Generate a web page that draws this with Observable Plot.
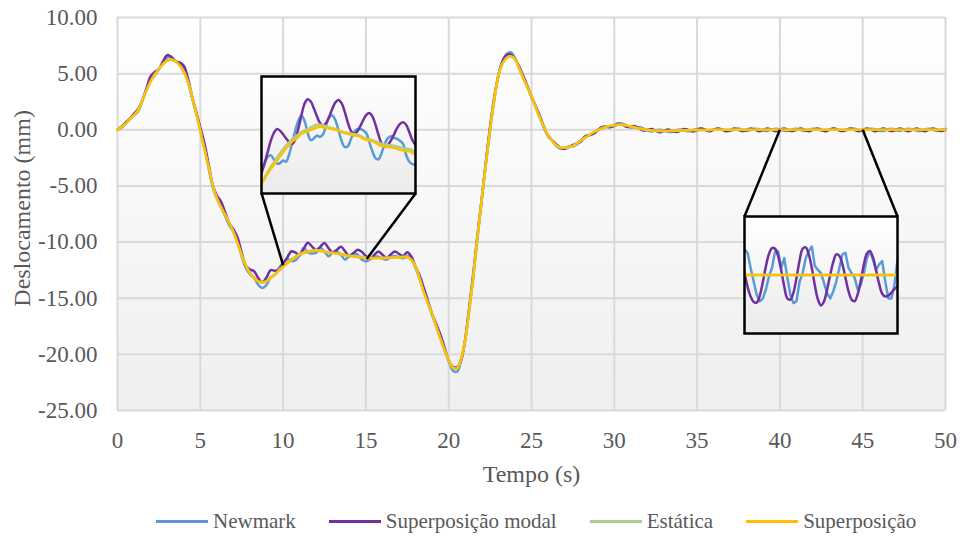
<!DOCTYPE html>
<html>
<head>
<meta charset="utf-8">
<script src="https://cdn.jsdelivr.net/npm/d3@7"></script>
<script src="https://cdn.jsdelivr.net/npm/@observablehq/plot@0.6"></script>
<style>
  html, body { margin: 0; padding: 0; background: #ffffff; }
  #wrap { position: relative; width: 962px; height: 536px; overflow: hidden; background: #ffffff; }
  #legend { position: absolute; left: 156px; top: 509px; display: flex; gap: 33px; align-items: center;
            font-family: 'Liberation Serif', 'Times New Roman', serif; font-size: 21px; color: #595959; white-space: nowrap; }
  .item { display: flex; align-items: center; }
  .sw { width: 52px; height: 2.5px; margin-right: 5px; }
</style>
</head>
<body>
<svg width="0" height="0" style="position:absolute">
  <defs>
    <linearGradient id="plotBg" x1="0" y1="0" x2="0" y2="1">
      <stop offset="0" stop-color="#ffffff"/>
      <stop offset="1" stop-color="#efefef"/>
    </linearGradient>
    <linearGradient id="insetBg" x1="0" y1="0" x2="0" y2="1">
      <stop offset="0" stop-color="#ffffff"/>
      <stop offset="1" stop-color="#ebebeb"/>
    </linearGradient>
  </defs>
</svg>
<div id="wrap"></div>
<script>
// ---------------- data ----------------
const seriesNames = ["Newmark", "Superposição modal", "Estática", "Superposição"];
const seriesColors = ["#5b9bd5", "#7030a0", "#a9d18e", "#ffc000"];
const xTicks = [0, 5, 10, 15, 20, 25, 30, 35, 40, 45, 50];
const yTicks = [-25, -20, -15, -10, -5, 0, 5, 10];
const xTitle = "Tempo (s)";
const yTitle = "Deslocamento (mm)";

// main series, sampled every 0.25 s from 0 to 50 s
const timeStep = 0.25;
const newmark = [
 0.00,0.20,0.55,1.00,1.30,1.65,2.60,3.60,4.40,4.85,5.40,6.00,6.45,6.45,6.10,5.85,5.40,4.30,2.85,1.50,
 0.00,-1.60,-3.40,-5.10,-6.10,-6.80,-7.70,-8.50,-9.10,-10.00,-11.30,-12.30,-12.85,-13.20,-13.80,-14.10,-13.80,-13.15,-12.90,-12.30,
 -11.82,-11.50,-11.69,-11.62,-11.15,-10.52,-10.92,-11.02,-10.95,-10.50,-10.85,-11.27,-10.90,-10.83,-11.15,-11.57,-11.20,-11.02,-11.12,-11.56,
 -11.72,-11.55,-11.35,-11.29,-11.48,-11.57,-11.35,-11.23,-11.36,-11.44,-11.25,-11.55,-12.30,-13.30,-14.40,-15.45,-16.50,-17.50,-18.55,-19.65,
 -20.60,-21.45,-21.55,-20.55,-18.70,-15.90,-12.90,-9.50,-6.10,-2.90,0.00,2.65,4.90,6.10,6.75,6.90,6.40,5.50,4.70,3.85,
 2.95,2.05,1.10,0.15,-0.50,-0.95,-1.45,-1.68,-1.60,-1.50,-1.50,-1.30,-0.90,-0.62,-0.50,-0.32,-0.03,0.22,0.29,0.27,
 0.32,0.50,0.55,0.36,0.20,0.20,0.22,0.13,-0.05,-0.15,-0.05,0.00,-0.08,-0.18,-0.19,-0.03,0.03,-0.07,-0.14,-0.03,
 0.08,
 0.10,-0.02,-0.10,0.03,0.10,0.05,-0.08,-0.10,0.04,0.11,-0.03,-0.10,0.00,0.09,0.06,-0.07,-0.11,0.02,0.10,0.04,
 -0.09,-0.08,0.06,0.10,-0.02,-0.11,0.01,0.10,0.05,-0.06,-0.10,0.03,0.11,-0.01,-0.09,-0.05,0.08,0.10,-0.04,-0.11,
 0.02,0.09,0.06,-0.08,-0.10,0.05,0.10,-0.03,-0.10,0.01,0.10,0.04,-0.07,-0.11,0.03,0.09,-0.02,-0.10,0.02,0.08
];
const modal = [
 0.00,0.30,0.65,1.00,1.45,1.85,2.60,3.70,4.75,5.15,5.40,6.10,6.65,6.50,6.10,6.00,5.70,4.60,3.00,1.60,
 0.20,-1.20,-3.05,-4.90,-5.85,-6.40,-7.35,-8.30,-8.85,-9.60,-10.95,-12.10,-12.45,-12.60,-13.20,-13.60,-13.15,-12.50,-12.55,-12.50,
 -11.95,-11.38,-10.82,-10.95,-11.18,-10.57,-10.07,-10.40,-10.73,-10.41,-10.09,-10.55,-10.94,-10.68,-10.42,-10.84,-11.26,-10.98,-10.69,-10.87,
 -11.25,-11.45,-11.15,-10.84,-11.13,-11.42,-11.10,-10.83,-11.06,-11.24,-10.90,-11.30,-12.20,-13.00,-14.10,-15.25,-16.40,-17.30,-18.25,-19.40,
 -20.50,-21.10,-21.15,-20.50,-18.60,-15.70,-12.60,-9.20,-6.10,-2.80,0.30,2.90,4.80,6.10,6.65,6.70,6.30,5.65,4.80,3.90,
 2.95,2.10,1.25,0.30,-0.55,-0.95,-1.30,-1.58,-1.70,-1.55,-1.35,-1.20,-1.05,-0.58,-0.45,-0.34,-0.05,0.24,0.25,0.23,
 0.42,0.57,0.45,0.26,0.30,0.32,0.12,-0.07,0.00,0.07,-0.08,-0.22,-0.10,0.02,-0.09,-0.20,-0.07,0.07,-0.04,-0.15,
 -0.02,
 0.12,0.00,-0.12,0.00,0.11,0.01,-0.12,-0.01,0.12,0.00,-0.11,0.00,0.12,0.01,-0.12,0.00,0.11,0.00,-0.12,0.01,
 0.12,0.00,-0.11,-0.01,0.12,0.00,-0.12,0.00,0.11,0.01,-0.12,0.00,0.12,0.00,-0.11,0.00,0.12,-0.01,-0.12,0.00,
 0.11,0.00,-0.12,0.01,0.12,0.00,-0.11,0.00,0.12,0.00,-0.12,-0.01,0.11,0.00,-0.12,0.00,0.12,0.00,-0.11,0.00
];
const estatica = [
 0.00,0.24,0.56,0.96,1.32,1.78,2.62,3.52,4.32,4.92,5.42,5.86,6.15,6.24,6.08,5.74,5.18,4.28,2.98,1.48,
 -0.12,-1.72,-3.32,-4.92,-6.10,-6.88,-7.58,-8.28,-9.10,-10.10,-11.18,-12.08,-12.72,-13.18,-13.48,-13.58,-13.48,-13.18,-12.88,-12.52,
 -12.17,-11.84,-11.54,-11.28,-11.07,-10.92,-10.82,-10.74,-10.72,-10.75,-10.82,-10.90,-10.95,-10.99,-11.07,-11.14,-11.21,-11.23,-11.28,-11.31,
 -11.39,-11.40,-11.41,-11.41,-11.41,-11.40,-11.38,-11.36,-11.34,-11.32,-11.33,-11.58,-12.18,-13.28,-14.48,-15.44,-16.40,-17.50,-18.60,-19.60,
 -20.50,-21.18,-21.22,-20.38,-18.68,-15.98,-12.88,-9.38,-6.08,-2.98,0.02,2.72,4.80,5.90,6.40,6.54,6.28,5.48,4.58,3.78,
 2.98,1.98,1.08,0.24,-0.50,-1.00,-1.40,-1.57,-1.59,-1.54,-1.44,-1.19,-0.94,-0.69,-0.44,-0.22,-0.05,0.12,0.25,0.35,
 0.41,0.44,0.44,0.37,0.29,0.20,0.12,0.05,0.00,-0.05,-0.08,-0.09,-0.10,-0.10,-0.09,-0.08,-0.07,-0.05,-0.04,-0.03,
 -0.02,
 -0.01,-0.01,-0.01,0.00,0.00,0.00,0.00,0.00,0.00,0.00,0.00,0.00,0.00,0.00,0.00,0.00,0.00,0.00,0.00,0.00,
 0.00,0.00,0.00,0.00,0.00,0.00,0.00,0.00,0.00,0.00,0.00,0.00,0.00,0.00,0.00,0.00,0.00,0.00,0.00,0.00,
 0.00,0.00,0.00,0.00,0.00,0.00,0.00,0.00,0.00,0.00,0.00,0.00,0.00,0.00,0.00,0.00,0.00,0.00,0.00,0.00
];
const superposicao = [
 0.00,0.25,0.55,0.95,1.30,1.75,2.60,3.50,4.30,4.90,5.40,5.85,6.15,6.25,6.10,5.75,5.20,4.30,3.00,1.50,
 -0.10,-1.70,-3.30,-4.90,-6.10,-6.90,-7.60,-8.30,-9.10,-10.10,-11.20,-12.10,-12.75,-13.20,-13.50,-13.60,-13.50,-13.20,-12.90,-12.55,
 -12.20,-11.88,-11.61,-11.35,-11.13,-10.97,-10.88,-10.80,-10.78,-10.81,-10.86,-10.93,-10.98,-11.03,-11.11,-11.19,-11.26,-11.28,-11.34,-11.37,
 -11.45,-11.45,-11.45,-11.44,-11.43,-11.42,-11.40,-11.38,-11.36,-11.34,-11.35,-11.60,-12.20,-13.30,-14.50,-15.45,-16.40,-17.50,-18.60,-19.60,
 -20.50,-21.20,-21.25,-20.40,-18.70,-16.00,-12.90,-9.40,-6.10,-3.00,0.00,2.70,4.80,5.90,6.40,6.55,6.30,5.50,4.60,3.80,
 3.00,2.00,1.10,0.25,-0.50,-1.00,-1.40,-1.58,-1.60,-1.55,-1.45,-1.20,-0.95,-0.70,-0.45,-0.22,-0.05,0.12,0.25,0.35,
 0.42,0.45,0.45,0.38,0.30,0.20,0.12,0.05,0.00,-0.05,-0.08,-0.10,-0.10,-0.10,-0.09,-0.08,-0.07,-0.05,-0.04,-0.03,
 -0.02,
 -0.01,-0.01,-0.01,0.00,0.00,0.00,0.00,0.00,0.00,0.00,0.00,0.00,0.00,0.00,0.00,0.00,0.00,0.00,0.00,0.00,
 0.00,0.00,0.00,0.00,0.00,0.00,0.00,0.00,0.00,0.00,0.00,0.00,0.00,0.00,0.00,0.00,0.00,0.00,0.00,0.00,
 0.00,0.00,0.00,0.00,0.00,0.00,0.00,0.00,0.00,0.00,0.00,0.00,0.00,0.00,0.00,0.00,0.00,0.00,0.00,0.00
];

// inset 1: detail of 10–15 s, sampled every 0.1 s
const inset1Start = 10, inset1Step = 0.1;
const inset1Newmark = [
 -11.82,-11.68,-11.52,-11.48,-11.58,-11.69,-11.68,-11.61,-11.64,-11.45,
 -11.15,-10.85,-10.60,-10.48,-10.62,-10.92,-11.10,-11.06,-10.98,-11.02,
 -10.95,-10.72,-10.52,-10.48,-10.60,-10.85,-11.12,-11.27,-11.26,-11.08,
 -10.90,-10.82,-10.82,-10.85,-10.92,-11.15,-11.38,-11.55,-11.58,-11.42,
 -11.20,-11.05,-11.00,-11.04,-11.07,-11.12,-11.20,-11.48,-11.64,-11.70,
 -11.72
];
const inset1Modal = [
 -11.94,-11.68,-11.40,-11.12,-10.92,-10.82,-10.86,-10.95,-11.06,-11.15,
 -11.19,-11.08,-10.80,-10.46,-10.18,-10.07,-10.13,-10.30,-10.50,-10.67,
 -10.73,-10.67,-10.51,-10.31,-10.15,-10.09,-10.17,-10.38,-10.65,-10.86,
 -10.94,-10.89,-10.76,-10.60,-10.47,-10.42,-10.50,-10.71,-10.97,-11.18,
 -11.26,-11.22,-11.11,-10.96,-10.80,-10.69,-10.65,-10.72,-10.90,-11.10,
 -11.22
];
const inset1Estatica = [
 -12.17,-12.04,-11.90,-11.77,-11.66,-11.54,-11.43,-11.33,-11.23,-11.15,
 -11.07,-11.01,-10.95,-10.89,-10.85,-10.82,-10.78,-10.74,-10.71,-10.71,
 -10.73,-10.75,-10.78,-10.80,-10.82,-10.85,-10.88,-10.90,-10.92,-10.93,
 -10.95,-10.96,-10.99,-11.03,-11.06,-11.08,-11.10,-11.13,-11.16,-11.19,
 -11.21,-11.22,-11.23,-11.24,-11.26,-11.28,-11.30,-11.31,-11.32,-11.35,
 -11.39
];
const inset1Superposicao = [
 -12.19,-12.07,-11.94,-11.82,-11.72,-11.61,-11.51,-11.40,-11.30,-11.22,
 -11.13,-11.08,-11.01,-10.94,-10.90,-10.88,-10.84,-10.81,-10.78,-10.76,
 -10.78,-10.79,-10.81,-10.82,-10.84,-10.86,-10.89,-10.92,-10.94,-10.96,
 -10.98,-10.99,-11.01,-11.06,-11.09,-11.11,-11.13,-11.17,-11.21,-11.24,
 -11.26,-11.27,-11.28,-11.29,-11.32,-11.34,-11.36,-11.37,-11.38,-11.42,
 -11.46
];
const inset1YDomain = [-12.44, -9.5];

// inset 2: detail of 40–45 s, sampled every 0.1 s
const inset2Start = 40, inset2Step = 0.1;
const inset2Newmark = [
 0.110,0.095,0.030,-0.028,-0.085,-0.112,-0.100,-0.062,-0.005,0.030,
 0.102,0.102,0.030,0.072,-0.012,-0.085,-0.120,-0.112,-0.028,0.008,
 0.072,0.102,0.122,0.038,0.022,0.008,-0.035,-0.078,-0.100,-0.070,
 -0.028,0.030,0.088,0.095,0.030,0.008,-0.012,-0.062,-0.042,0.008,
 0.072,0.102,0.065,0.022,0.045,0.060,-0.028,-0.100,-0.100,-0.042,
 0.065
];
const inset2Modal = [
 0.012,-0.050,-0.092,-0.115,-0.118,-0.088,-0.030,0.038,0.090,0.115,
 0.112,0.080,0.020,-0.050,-0.100,-0.105,-0.075,-0.012,0.062,0.112,
 0.118,0.088,0.030,-0.045,-0.105,-0.130,-0.112,-0.062,0.000,0.055,
 0.088,0.082,0.045,-0.012,-0.070,-0.105,-0.112,-0.082,-0.025,0.045,
 0.092,0.102,0.075,0.020,-0.038,-0.080,-0.092,-0.088,-0.075,-0.060,
 -0.049
];
const inset2Estatica = [
 0,0,0,0,0,0,0,0,0,0, 0,0,0,0,0,0,0,0,0,0, 0,0,0,0,0,0,0,0,0,0,
 0,0,0,0,0,0,0,0,0,0, 0,0,0,0,0,0,0,0,0,0, 0
];
const inset2Superposicao = [
 0,0,0,0,0,0,0,0,0,0, 0,0,0,0,0,0,0,0,0,0, 0,0,0,0,0,0,0,0,0,0,
 0,0,0,0,0,0,0,0,0,0, 0,0,0,0,0,0,0,0,0,0, 0
];
const inset2YDomain = [-0.25, 0.25];

// inset frames and connector anchors, in the main chart's units (s, mm)
const inset1Box = {x1: 8.70, x2: 18.0, yTop: 4.75, yBottom: -5.67};
const inset1Anchors = [[10.0, -12.05], [15.05, -11.5]];
const inset2Box = {x1: 37.86, x2: 47.1, yTop: -7.72, yBottom: -18.1};
const inset2Anchors = [[40.0, 0.0], [45.0, 0.0]];
const yTitleAt = -7.0;

// ---------------- build ----------------
const FONT = "'Liberation Serif', 'Times New Roman', serif";
const TEXT = "#595959";

function rows(start, step, arrays) {
  return arrays[0].map((_, i) => {
    const r = {t: +(start + i * step).toFixed(4)};
    arrays.forEach((a, k) => r["s" + k] = a[i]);
    return r;
  });
}
const mainRows = rows(0, timeStep, [newmark, modal, estatica, superposicao]);
const in1Rows = rows(inset1Start, inset1Step, [inset1Newmark, inset1Modal, inset1Estatica, inset1Superposicao]);
const in2Rows = rows(inset2Start, inset2Step, [inset2Newmark, inset2Modal, inset2Estatica, inset2Superposicao]);

const connectors = [
  {x1: inset1Box.x1, y1: inset1Box.yBottom, x2: inset1Anchors[0][0], y2: inset1Anchors[0][1]},
  {x1: inset1Box.x2, y1: inset1Box.yBottom, x2: inset1Anchors[1][0], y2: inset1Anchors[1][1]},
  {x1: inset2Box.x1, y1: inset2Box.yTop, x2: inset2Anchors[0][0], y2: inset2Anchors[0][1]},
  {x1: inset2Box.x2, y1: inset2Box.yTop, x2: inset2Anchors[1][0], y2: inset2Anchors[1][1]}
];

const main = Plot.plot({
  width: 962, height: 490,
  marginLeft: 117, marginRight: 17, marginTop: 17, marginBottom: 80,
  style: {fontFamily: FONT, fontSize: "23px", color: TEXT, background: "transparent", overflow: "visible"},
  x: {domain: [0, 50], ticks: xTicks, tickFormat: d => String(d), tickSize: 0, tickPadding: 21, label: null},
  y: {domain: [-25, 10], ticks: yTicks, tickFormat: d => d.toFixed(2), tickSize: 0, tickPadding: 20, label: null},
  marks: [
    Plot.frame({fill: "url(#plotBg)"}),
    Plot.ruleX(xTicks, {stroke: "#d9d9d9", strokeWidth: 2}),
    Plot.ruleY(yTicks, {stroke: "#d9d9d9", strokeWidth: 2}),
    ...[0, 1, 2, 3].map(k => Plot.line(mainRows, {x: "t", y: "s" + k, stroke: seriesColors[k], strokeWidth: 2.5, curve: "catmull-rom"})),
    Plot.link(connectors, {x1: "x1", y1: "y1", x2: "x2", y2: "y2", stroke: "#000000", strokeWidth: 2.5}),
    Plot.text([xTitle], {text: d => d, frameAnchor: "bottom", lineAnchor: "middle", textAnchor: "middle", dy: 64, fontSize: 24, fill: TEXT}),
    Plot.text([yTitle], {text: d => d, y: () => yTitleAt, frameAnchor: "left", lineAnchor: "middle", textAnchor: "middle", dx: -95, rotate: -90, fontSize: 24, fill: TEXT})
  ]
});

const wrap = document.getElementById("wrap");
wrap.appendChild(main);

function makeInset(box, data, xDomain, yDomain, curves) {
  const X = main.scale("x"), Y = main.scale("y");
  const left = X.apply(box.x1), right = X.apply(box.x2);
  const top = Y.apply(box.yTop), bottom = Y.apply(box.yBottom);
  const pad = 2;
  const w = Math.round(right - left), h = Math.round(bottom - top);
  const p = Plot.plot({
    width: w + 2 * pad, height: h + 2 * pad,
    marginLeft: pad, marginRight: pad, marginTop: pad, marginBottom: pad,
    style: {background: "transparent", overflow: "visible"},
    x: {domain: xDomain, axis: null},
    y: {domain: yDomain, axis: null},
    marks: [
      Plot.frame({fill: "url(#insetBg)"}),
      ...[0, 1, 2, 3].map(k => Plot.line(data, {x: "t", y: "s" + k, stroke: seriesColors[k], strokeWidth: 2.5, curve: curves[k], clip: true})),
      Plot.frame({stroke: "#000000", strokeWidth: 2.5})
    ]
  });
  p.style.position = "absolute";
  p.style.left = (Math.round(left) - pad) + "px";
  p.style.top = (Math.round(top) - pad) + "px";
  wrap.appendChild(p);
}
makeInset(inset1Box, in1Rows, [10, 15], inset1YDomain, ["catmull-rom", "catmull-rom", "catmull-rom", "catmull-rom"]);
makeInset(inset2Box, in2Rows, [40, 45], inset2YDomain, ["linear", "catmull-rom", "linear", "linear"]);

// legend
const legend = document.createElement("div");
legend.id = "legend";
seriesNames.forEach((name, k) => {
  const item = document.createElement("div");
  item.className = "item";
  const sw = document.createElement("span");
  sw.className = "sw";
  sw.style.background = seriesColors[k];
  item.appendChild(sw);
  item.appendChild(document.createTextNode(name));
  legend.appendChild(item);
});
wrap.appendChild(legend);
</script>
</body>
</html>
